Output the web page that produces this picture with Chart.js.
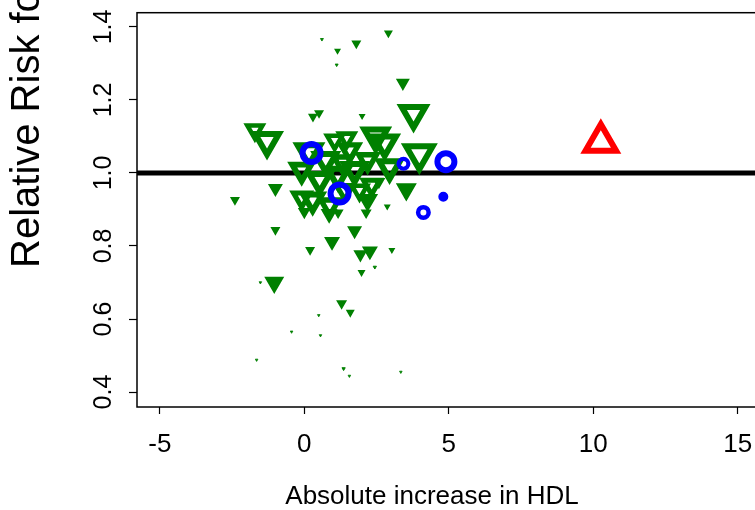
<!DOCTYPE html>
<html>
<head>
<meta charset="utf-8">
<script src="https://cdn.jsdelivr.net/npm/chart.js@4.4.1/dist/chart.umd.min.js"></script>
<style>
  html, body { margin: 0; padding: 0; background: #fff; overflow: hidden; }
  #wrap { width: 780px; height: 510px; }
</style>
</head>
<body>
<div id="wrap"><canvas id="hdlChart" width="780" height="510"></canvas></div>
<script>
// trials: absolute HDL increase vs relative risk, marker size follows study weight
const greenX = [0.61, 1.15, 1.80, 1.12, 2.91, 3.41, 0.30, 0.51, 2.00,
  -1.71, -1.29, 1.47, 2.47, 2.78, 3.78, 3.98,
  0.16, -0.09, -0.09, 0.29, 0.88, 0.74, 1.16, 0.53, 1.57, 1.74, 1.40, 2.19, 2.33, 2.95, 2.19, 1.91, 1.05, 1.33,
  2.58, -1.00, -2.40, 2.87, 3.53,
  0.00, 0.86, 1.17, 2.14, -1.00, 1.74, 0.96, 0.20, 1.94, 2.27, 3.03, 1.98, 2.44, -1.04, -1.52,
  1.29, 1.59, 0.50, -0.44, 0.56, -1.65, 1.36, 1.56, 3.34];
const greenY = [1.366, 1.335, 1.355, 1.296, 1.383, 1.247, 1.154, 1.164, 1.156,
  1.118, 1.088, 1.096, 1.101, 1.082, 1.162, 1.052,
  1.058, 1.008, 0.932, 0.926, 0.912, 1.036, 0.995, 0.981, 1.063, 1.008, 0.953, 1.036, 0.967, 1.016, 0.926, 0.953, 1.090, 1.030,
  0.976, 0.958, 0.926, 0.908, 0.955,
  0.894, 0.888, 0.891, 0.891, 0.844, 0.842, 0.812, 0.789, 0.777, 0.786, 0.789, 0.728, 0.742, 0.700, 0.700,
  0.643, 0.618, 0.610, 0.565, 0.555, 0.488, 0.464, 0.444, 0.455];
const greenWeight = [3.5, 6, 9, 3.5, 8, 13, 9, 9, 6,
  22, 33, 22, 32, 32, 33, 36,
  32, 28, 24, 28, 26, 30, 30, 30, 26, 30, 24, 26, 24, 30, 20, 22, 22, 26,
  12, 14, 9, 6, 20,
  12, 16, 10, 10, 9, 14, 15, 9, 13, 15, 6, 7, 4, 19, 3,
  10, 8, 3, 3, 3, 3, 4, 3, 3];

const blueX = [0.25, 1.22, 3.43, 4.90, 4.81, 4.12];
const blueY = [1.055, 0.944, 1.025, 1.031, 0.935, 0.892];
const blueWeight = [24, 24, 14, 23, 10, 15];

const redX = [10.26];
const redY = [1.085];
const redWeight = [40];

const xTicks = [-5, 0, 5, 10, 15];
const yTicks = [0.4, 0.6, 0.8, 1.0, 1.2, 1.4];
const refRisk = 1.0;
const xTitle = "Absolute increase in HDL";
const yTitle = "Relative Risk fo";

const xMin = -5.789, xMax = 16.114;
const yMin = 0.359, yMax = 1.439;
const FONT = '"Liberation Sans", Arial, Helvetica, sans-serif';

function pts(xs, ys) {
  return xs.map((x, i) => ({ x: x, y: ys[i] }));
}
// weight -> triangle outline (outer width about w + 1 px)
function triBorder(w) { return Math.min(6, (w + 1) * 0.2); }
function triRadius(w) { return (w + 1 - Math.sqrt(3) * triBorder(w)) / Math.sqrt(3); }
// weight -> circle outline
function circBorder(w) { return Math.min(6, w * 0.3); }
function circRadius(w) { return (w - circBorder(w)) / 2; }

const axisText = {
  id: 'axisText',
  afterDraw(chart) {
    const { ctx, chartArea: a, scales } = chart;
    ctx.save();
    ctx.strokeStyle = '#000';
    ctx.lineWidth = 1.5;
    ctx.strokeRect(a.left, a.top, a.right - a.left, a.bottom - a.top);

    ctx.fillStyle = '#000';
    ctx.textAlign = 'center';
    ctx.textBaseline = 'middle';
    ctx.font = '26px ' + FONT;
    xTicks.forEach(v => ctx.fillText(String(v), scales.x.getPixelForValue(v), 445));
    ctx.fillText(xTitle, 432, 497);

    ctx.font = '25px ' + FONT;
    yTicks.forEach(v => {
      ctx.save();
      ctx.translate(104, scales.y.getPixelForValue(v));
      ctx.rotate(-Math.PI / 2);
      ctx.fillText(v.toFixed(1), 0, 0);
      ctx.restore();
    });

    ctx.font = '40px ' + FONT;
    ctx.textAlign = 'left';
    ctx.translate(27.5, 268);
    ctx.rotate(-Math.PI / 2);
    ctx.fillText(yTitle, 0, 0);
    ctx.restore();
  }
};

const green = '#008000';

new Chart(document.getElementById('hdlChart'), {
  type: 'scatter',
  data: {
    datasets: [
      {
        data: pts(blueX, blueY),
        pointStyle: 'circle',
        pointRadius: blueWeight.map(circRadius),
        pointBorderWidth: blueWeight.map(circBorder),
        pointBorderColor: '#0000ff',
        pointBackgroundColor: blueWeight.map(w => w < 12 ? '#0000ff' : 'rgba(0,0,0,0)')
      },
      {
        data: pts(greenX, greenY),
        pointStyle: 'triangle',
        pointRotation: 180,
        pointRadius: greenWeight.map(triRadius),
        pointBorderWidth: greenWeight.map(triBorder),
        pointBorderColor: green,
        pointBackgroundColor: greenWeight.map(w => w < 21 ? green : 'rgba(0,0,0,0)')
      },
      {
        data: pts(redX, redY),
        pointStyle: 'triangle',
        pointRadius: redWeight.map(triRadius),
        pointBorderWidth: redWeight.map(triBorder),
        pointBorderColor: '#ff0000',
        pointBackgroundColor: 'rgba(0,0,0,0)'
      },
      {
        data: [{ x: xMin, y: refRisk }, { x: xMax, y: refRisk }],
        showLine: true,
        borderColor: '#000',
        borderWidth: 5,
        pointRadius: 0
      }
    ]
  },
  options: {
    responsive: false,
    animation: false,
    events: [],
    layout: { autoPadding: false, padding: { top: 12.7, right: 10, left: 0, bottom: 0 } },
    plugins: { legend: { display: false }, tooltip: { enabled: false } },
    scales: {
      x: {
        type: 'linear', min: xMin, max: xMax,
        afterBuildTicks: s => { s.ticks = xTicks.map(v => ({ value: v })); },
        afterFit: s => { s.height = 103; },
        ticks: { display: false },
        grid: { drawOnChartArea: false, drawTicks: true, tickLength: 7, tickColor: '#000', tickWidth: 1.2 },
        border: { display: false }
      },
      y: {
        type: 'linear', min: yMin, max: yMax,
        afterBuildTicks: s => { s.ticks = yTicks.map(v => ({ value: v })); },
        afterFit: s => { s.width = 137; },
        ticks: { display: false },
        grid: { drawOnChartArea: false, drawTicks: true, tickLength: 8, tickColor: '#000', tickWidth: 1.2 },
        border: { display: false }
      }
    }
  },
  plugins: [axisText]
});
</script>
</body>
</html>
